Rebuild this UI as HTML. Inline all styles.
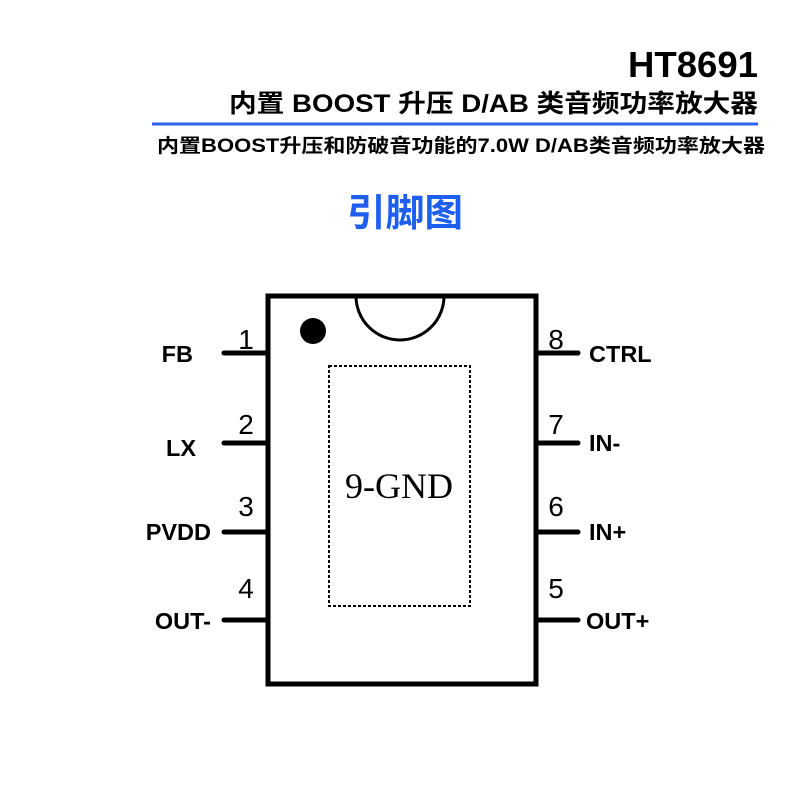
<!DOCTYPE html>
<html><head><meta charset="utf-8"><style>
body{margin:0;width:800px;height:800px;background:#fff;overflow:hidden;}
</style></head><body>
<svg width="800" height="800" xmlns="http://www.w3.org/2000/svg" style="position:absolute;left:0;top:0">
<g font-family="Liberation Sans, Noto Sans CJK SC, sans-serif" font-weight="bold" fill="#000">
<text x="628" y="77" font-size="36" textLength="130" lengthAdjust="spacingAndGlyphs">HT8691</text>
<text x="229" y="112" font-size="25" textLength="529" lengthAdjust="spacingAndGlyphs">内置 BOOST 升压 D/AB 类音频功率放大器</text>
<text x="157" y="152" font-size="19" textLength="608" lengthAdjust="spacingAndGlyphs">内置BOOST升压和防破音功能的7.0W D/AB类音频功率放大器</text>
<text x="347" y="226" font-size="38" textLength="116" lengthAdjust="spacingAndGlyphs" fill="#1f5ff0">引脚图</text>
</g>
<line x1="152" y1="124" x2="758" y2="124" stroke="#2f62e8" stroke-width="3"/>
<rect x="268" y="296" width="268" height="388" fill="none" stroke="#000" stroke-width="5"/>
<path d="M356 296 A44 44 0 0 0 444 296" fill="none" stroke="#000" stroke-width="3"/>
<circle cx="313" cy="331" r="13" fill="#000"/>
<rect x="329" y="366" width="141" height="240" fill="none" stroke="#000" stroke-width="2" stroke-dasharray="3,2"/>
<text x="399" y="498" font-family="Liberation Serif, serif" font-size="36" text-anchor="middle">9-GND</text>
<g stroke="#000" stroke-width="5" stroke-linecap="round">
<line x1="224" y1="353" x2="266" y2="353"/><line x1="224" y1="443" x2="266" y2="443"/>
<line x1="224" y1="532" x2="266" y2="532"/><line x1="224" y1="620" x2="266" y2="620"/>
<line x1="538" y1="353" x2="578" y2="353"/><line x1="538" y1="443" x2="578" y2="443"/>
<line x1="538" y1="532" x2="578" y2="532"/><line x1="538" y1="620" x2="578" y2="620"/>
</g>
<g font-family="Liberation Sans, sans-serif" font-size="28" text-anchor="middle">
<text x="246" y="349">1</text><text x="246" y="434">2</text><text x="246" y="516">3</text><text x="246" y="598">4</text>
<text x="556" y="349">8</text><text x="556" y="434">7</text><text x="556" y="516">6</text><text x="556" y="598">5</text>
</g>
<g font-family="Liberation Sans, sans-serif" font-size="23.5" font-weight="bold">
<g text-anchor="end">
<text x="193" y="362">FB</text><text x="196" y="456">LX</text><text x="211" y="540">PVDD</text><text x="211" y="629">OUT-</text>
</g>
<text x="589" y="362">CTRL</text><text x="589" y="451">IN-</text><text x="589" y="540">IN+</text><text x="586" y="629">OUT+</text>
</g>
</svg>
</body></html>
